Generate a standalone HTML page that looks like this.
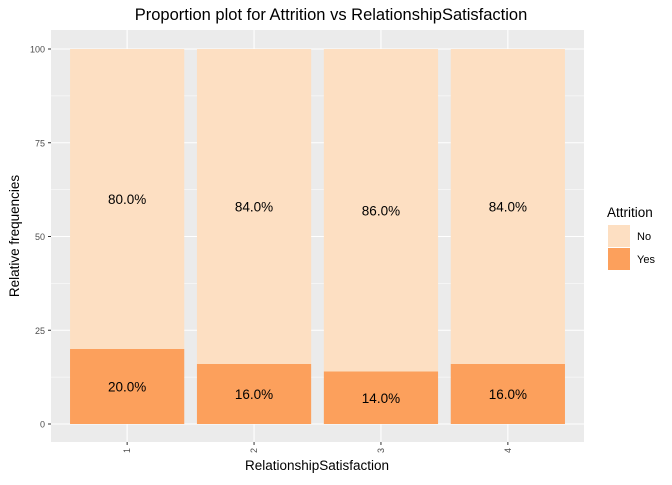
<!DOCTYPE html>
<html><head><meta charset="utf-8"><style>body{margin:0;background:#fff}svg{font-family:"Liberation Sans",sans-serif}</style></head>
<body>
<svg id="c" width="672" height="480"></svg>
<script>
const categories=["1","2","3","4"];
const noValues=[80,84,86,84];
const yesValues=[20,16,14,16];
const yTicks=[0,25,50,75,100];
const svg=document.getElementById('c');const NS='http://www.w3.org/2000/svg';
function mk(t,a,p){const e=document.createElementNS(NS,t);for(const k in a)e.setAttribute(k,a[k]);(p||svg).appendChild(e);return e;}
const L=51,R=584,T=30,B=442;
const y=v=>424-v*3.75;
const step=(R-L)/4.2;
const x=i=>L+(0.6+i)*step;
const bw=step*0.9;
const panel=mk('rect',{x:L,y:T,width:R-L,height:B-T,fill:'#ebebeb'});

for(let i=0;i<yTicks.length-1;i++){const m=(yTicks[i]+yTicks[i+1])/2;mk('line',{x1:L,x2:R,y1:y(m),y2:y(m),stroke:'#fff','stroke-width':0.5});}
yTicks.forEach(t=>{mk('line',{x1:L,x2:R,y1:y(t),y2:y(t),stroke:'#fff','stroke-width':1.1});
mk('line',{x1:L-3,x2:L,y1:y(t),y2:y(t),stroke:'#333'});
const tx=mk('text',{x:L-6,y:y(t)+3.5,'text-anchor':'end','font-size':9,fill:'#4d4d4d'});tx.textContent=t;
});
categories.forEach((c,i)=>{mk('line',{x1:x(i),x2:x(i),y1:T,y2:B,stroke:'#fff','stroke-width':1.1});});
categories.forEach((c,i)=>{
const by=mk('rect',{x:x(i)-bw/2,y:y(yesValues[i]),width:bw,height:y(0)-y(yesValues[i]),fill:'#fca05c'});

const bn=mk('rect',{x:x(i)-bw/2,y:y(yesValues[i]+noValues[i]),width:bw,height:y(yesValues[i])-y(yesValues[i]+noValues[i]),fill:'#fddfc2'});

const t1=mk('text',{x:x(i),y:y(yesValues[i]/2)+5,'text-anchor':'middle','font-size':13.5});t1.textContent=yesValues[i].toFixed(1)+'%';

const t2=mk('text',{x:x(i),y:y(yesValues[i]+noValues[i]/2)+5,'text-anchor':'middle','font-size':13.5});t2.textContent=noValues[i].toFixed(1)+'%';

mk('line',{x1:x(i),x2:x(i),y1:B,y2:B+3,stroke:'#333'});
const xt=mk('text',{transform:`translate(${x(i)+3},${B+6}) rotate(-90)`,'text-anchor':'end','font-size':9,fill:'#4d4d4d'});xt.textContent=c;

});
</script>
<svg width="672" height="480" style="position:absolute;left:0;top:0">
<text x="331" y="20" text-anchor="middle" font-size="16.5" font-family="Liberation Sans,sans-serif">Proportion plot for Attrition vs RelationshipSatisfaction</text>
<text x="317" y="470" text-anchor="middle" font-size="13.5" font-family="Liberation Sans,sans-serif">RelationshipSatisfaction</text>
<text transform="translate(19,236) rotate(-90)" text-anchor="middle" font-size="13.5" font-family="Liberation Sans,sans-serif">Relative frequencies</text>
<text x="607" y="217" font-size="13.5" font-family="Liberation Sans,sans-serif">Attrition</text>
<rect x="608" y="225" width="22" height="22" fill="#fddfc2"/>
<rect x="608" y="248" width="22" height="22" fill="#fca05c"/>
<text x="637" y="240" font-size="11" font-family="Liberation Sans,sans-serif">No</text>
<text x="637" y="263" font-size="11" font-family="Liberation Sans,sans-serif">Yes</text>
</svg>
</body></html>
